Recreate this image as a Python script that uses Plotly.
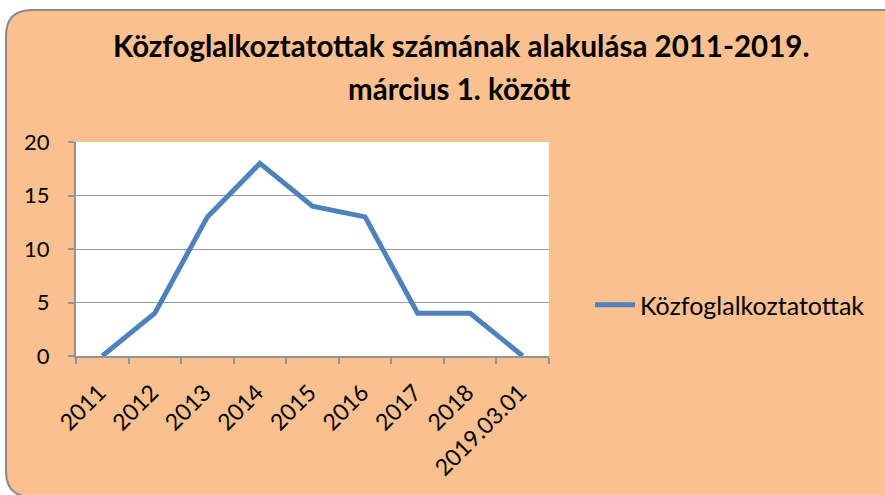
import plotly.graph_objects as go

categories = ["2011", "2012", "2013", "2014", "2015", "2016", "2017", "2018", "2019.03.01"]
values = [0, 4, 13, 18, 14, 13, 4, 4, 0]
series_name = "Közfoglalkoztatottak"
title_line1 = "Közfoglalkoztatottak számának alakulása 2011-2019."
title_line2 = "március 1. között"
y_ticks = [0, 5, 10, 15, 20]

W, H = 885, 495
ML, MR, MT, MB = 76, 885 - 549, 142, 495 - 356
PW, PH = W - ML - MR, H - MT - MB


def px(x):
    return (x - ML) / PW


def py(y):
    return (H - MB - y) / PH


FONT = "Lato, 'Open Sans', sans-serif"
BG = "#FAC090"
GRID = "#939393"

fig = go.Figure()
fig.add_trace(go.Scatter(
    x=categories, y=values, mode="lines", name=series_name,
    line=dict(color="#4F81BD", width=5),
))

# rounded chart-area background (top-left and bottom-left corners rounded)
x0, x1, y0, y1 = px(6), px(900), py(497), py(10)
rx, ry = 26 / PW, 26 / PH
path = (f"M {x0+rx},{y1} L {x1},{y1} L {x1},{y0} L {x0+rx},{y0} "
        f"Q {x0},{y0} {x0},{y0+ry} L {x0},{y1-ry} "
        f"Q {x0},{y1} {x0+rx},{y1} Z")

fig.update_layout(
    width=W, height=H,
    margin=dict(l=ML, r=MR, t=MT, b=MB, pad=0),
    paper_bgcolor="white",
    plot_bgcolor="white",
    font=dict(family=FONT, size=22, color="black"),
    showlegend=True,
    legend=dict(x=px(590), y=py(305), xanchor="left", yanchor="middle",
                bgcolor="rgba(0,0,0,0)", font=dict(size=25), itemwidth=40),
    shapes=[
        dict(type="path", path=path, xref="paper", yref="paper", layer="below",
             fillcolor=BG, line=dict(color="#8A8A8A", width=2)),
        dict(type="rect", xref="paper", yref="paper", x0=0, x1=1, y0=0, y1=1,
             layer="below", fillcolor="white", line=dict(width=0)),
    ],
    annotations=[
        dict(text=f"<b>{title_line1}</b>", x=px(461), y=py(46), xref="paper", yref="paper",
             showarrow=False, font=dict(size=29.5), xanchor="center", yanchor="middle"),
        dict(text=f"<b>{title_line2}</b>", x=px(459), y=py(88), xref="paper", yref="paper",
             showarrow=False, font=dict(size=29.5), xanchor="center", yanchor="middle"),
    ],
    xaxis=dict(
        type="category", range=[-0.5, len(categories) - 0.5],
        tickson="boundaries", ticks="outside", ticklen=6, tickcolor=GRID, tickwidth=2,
        showline=True, linecolor=GRID, linewidth=2, showgrid=False,
        tickangle=-45, tickfont=dict(size=23), ticklabelstandoff=12, ticklabelshift=-3,
        fixedrange=True,
    ),
    yaxis=dict(
        range=[0, 20], tickvals=y_ticks, ticks="outside", ticklen=6, tickcolor=GRID, tickwidth=2,
        showline=True, linecolor=GRID, linewidth=2, showgrid=True, gridcolor="#9C9C9C", gridwidth=1,
        zeroline=False, tickfont=dict(size=22), ticklabelstandoff=14, fixedrange=True,
    ),
)

fig.write_html("out.html", config={"displayModeBar": False},
               post_script="document.body.style.margin='0';")
